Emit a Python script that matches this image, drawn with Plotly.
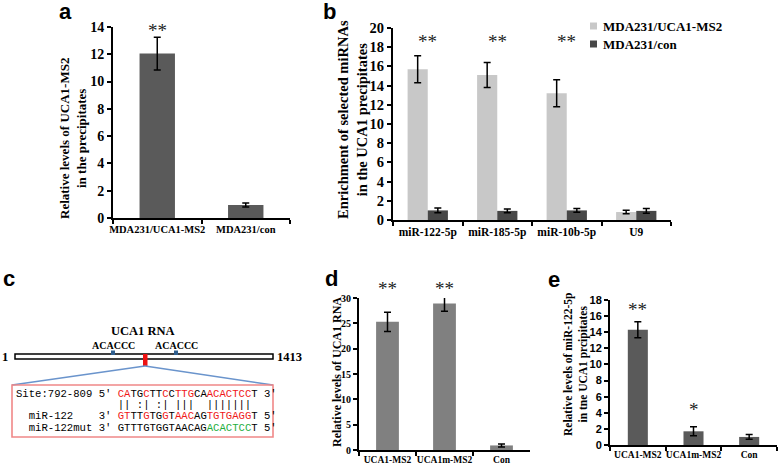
import plotly.graph_objects as go

W, H = 778, 466

# ---- data ----
a_cats = ['MDA231/UCA1-MS2', 'MDA231/con']
a_vals = [12.05, 0.95]
a_errs = [1.2, 0.15]
a_sig = ['**', '']

b_cats = ['miR-122-5p', 'miR-185-5p', 'miR-10b-5p', 'U9']
b_names = ['MDA231/UCA1-MS2', 'MDA231/con']
b_ms2 = [15.7, 15.1, 13.2, 0.83]
b_ms2_err = [1.4, 1.3, 1.4, 0.18]
b_con = [1.0, 0.95, 1.0, 0.95]
b_con_err = [0.25, 0.2, 0.2, 0.25]
b_sig = ['**', '**', '**', '']

d_cats = ['UCA1-MS2', 'UCA1m-MS2', 'Con']
d_vals = [25.3, 28.9, 0.9]
d_errs = [1.9, 1.5, 0.3]
d_sig = ['**', '**', '']

e_cats = ['UCA1-MS2', 'UCA1m-MS2', 'Con']
e_vals = [14.3, 1.7, 1.0]
e_errs = [1.0, 0.55, 0.3]
e_sig = ['**', '*', '']

site_label = 'Site:792-809'
site_seq = 'CATGCTTCCTTGCAACACTCCT'
mir_seq = 'GTTTGTGGTAACAGTGTGAGGT'
mut_seq = 'GTTTGTGGTAACAGACACTCCT'
rna_len = 1413

SERIF = 'Liberation Serif'
SANS = 'Liberation Sans'
MONO = 'Liberation Mono'
RED = '#f01818'
GREEN = '#1fae3e'


def px(x):
    return x / W


def py(y):
    return 1 - y / H


def err(vals):
    return dict(type='data', array=vals, color='black', thickness=1.5, width=3.5, visible=True)


fig = go.Figure()

fig.add_trace(go.Bar(x=a_cats, y=a_vals, error_y=err(a_errs), width=0.4,
                     marker=dict(color='#5a5a5a', line=dict(width=0)), xaxis='x', yaxis='y'))
fig.add_trace(go.Bar(x=b_cats, y=b_ms2, error_y=err(b_ms2_err), name=b_names[0],
                     marker=dict(color='#c8c8c8', line=dict(width=0)), xaxis='x2', yaxis='y2'))
fig.add_trace(go.Bar(x=b_cats, y=b_con, error_y=err(b_con_err), name=b_names[1],
                     marker=dict(color='#474747', line=dict(width=0)), xaxis='x2', yaxis='y2'))
fig.add_trace(go.Bar(x=d_cats, y=d_vals, error_y=err(d_errs), width=0.4,
                     marker=dict(color='#808080', line=dict(width=0)), xaxis='x3', yaxis='y3'))
fig.add_trace(go.Bar(x=e_cats, y=e_vals, error_y=err(e_errs), width=0.36,
                     marker=dict(color='#5a5a5a', line=dict(width=0)), xaxis='x4', yaxis='y4'))

# axis boxes in pixels: (x0, x1), (ytop, ybottom), ymax, step, ncat, y font, y size, x size
panels = {
    '': ((113, 290), (27, 218), 14, 2, len(a_cats), SERIF, 14, 10.5),
    '2': ((393, 671), (28, 220), 20, 2, len(b_cats), SERIF, 14.5, 11.5),
    '3': ((359, 530), (298, 450), 30, 5, len(d_cats), SERIF, 10, 9.5),
    '4': ((610, 777), (300, 445), 18, 2, len(e_cats), SANS, 11, 9.5),
}
layout_axes = {}
for k, (xs, ys, ymax, ystep, ncat, yfam, ysize, xsize) in panels.items():
    layout_axes['xaxis' + k] = dict(
        domain=[px(xs[0]), px(xs[1])], anchor='y' + k, range=[-0.5, ncat - 0.5],
        showline=True, linecolor='black', linewidth=2, ticks='outside', tickson='boundaries',
        ticklen=4, tickwidth=1.5, tickcolor='black', showgrid=False, zeroline=False,
        tickangle=0, automargin=False,
        tickfont=dict(family=SERIF, size=xsize, color='black', weight='bold'), fixedrange=True)
    layout_axes['yaxis' + k] = dict(
        domain=[py(ys[1]), py(ys[0])], anchor='x' + k, range=[0, ymax], dtick=ystep,
        showline=True, linecolor='black', linewidth=2, ticks='outside', ticklen=4,
        tickwidth=1.5, tickcolor='black', showgrid=False, zeroline=False, automargin=False,
        tickfont=dict(family=yfam, size=ysize, color='black', weight='bold'), fixedrange=True)

ann = []


def label(text, x, y, size=13, family=SERIF, color='black', bold=True, angle=0, xanchor='center'):
    ann.append(dict(text=text, x=px(x), y=py(y), xref='paper', yref='paper', showarrow=False,
                    xanchor=xanchor, yanchor='middle', textangle=angle,
                    font=dict(family=family, size=size, color=color,
                              weight='bold' if bold else 'normal')))


# panel letters
for t, x, y in [('a', 65, 12), ('b', 329, 12), ('c', 9, 278), ('d', 331, 278), ('e', 554, 279)]:
    label(t, x, y, size=22, family=SANS)

# y-axis titles
label('Relative levels of UCA1-MS2<br>in the precipitates', 73, 139, size=13, angle=-90)
label('Enrichment of selected miRNAs<br>in the UCA1 precipitates', 352, 120, size=14.5, angle=-90)
label('Relative levels of UCA1 RNA', 337, 372, size=12, angle=-90)
label('Relative levels of miR-122-5p<br>in tne UCA1 prcipitates', 576, 365, size=11.5, angle=-90)

# significance stars, one level per panel (fraction of y domain)
for k, cats, sig, lvl in [('', a_cats, a_sig, 1.0), ('2', b_cats, b_sig, 0.95),
                          ('3', d_cats, d_sig, 1.086), ('4', e_cats, e_sig, None)]:
    for i, (c, s) in enumerate(zip(cats, sig)):
        if not s:
            continue
        level = lvl if lvl is not None else [0.96, 0.27][i]
        ann.append(dict(text=s, x=c, y=level, xref='x' + k, yref='y' + k + ' domain',
                        showarrow=False, yanchor='middle', yshift=-4,
                        font=dict(family=SERIF, size=19, color='#222')))

# legend for panel b
shapes = []
for name, col, y in [(b_names[0], '#c8c8c8', 26), (b_names[1], '#474747', 44)]:
    shapes.append(dict(type='rect', xref='paper', yref='paper', x0=px(590), x1=px(597),
                       y0=py(y + 3.5), y1=py(y - 3.5), fillcolor=col, line=dict(width=0)))
    label(name, 601, y, size=13, xanchor='left')

# ---- panel c: UCA1 schematic ----
bar_x0, bar_x1 = 15, 273
shapes.append(dict(type='rect', xref='paper', yref='paper', x0=px(bar_x0), x1=px(bar_x1),
                   y0=py(359), y1=py(354), fillcolor='white', line=dict(color='black', width=1.5)))
for mx in [113, 176]:
    shapes.append(dict(type='rect', xref='paper', yref='paper', x0=px(mx - 2), x1=px(mx + 2),
                       y0=py(355), y1=py(350.5), fillcolor='#2f5f8f', line=dict(width=0)))
    label('ACACCC', mx, 345, size=10)
shapes.append(dict(type='rect', xref='paper', yref='paper', x0=px(143), x1=px(147.5),
                   y0=py(366), y1=py(354), fillcolor='#ee1111', line=dict(width=0)))
for ex in [12, 273]:
    shapes.append(dict(type='line', xref='paper', yref='paper', x0=px(145), y0=py(366),
                       x1=px(ex), y1=py(385), line=dict(color='#6a94cc', width=1.5)))
shapes.append(dict(type='rect', xref='paper', yref='paper', x0=px(12), x1=px(273),
                   y0=py(437), y1=py(385), line=dict(color='#f08888', width=1.6)))
label('UCA1 RNA', 143, 331, size=12.5)
label('1', 5, 357, size=12.5)
label(str(rna_len), 289, 357, size=12.5, xanchor='center')

# base pairing between site and miR-122
wc = {('A', 'T'), ('T', 'A'), ('G', 'C'), ('C', 'G')}
wobble = {('G', 'T'), ('T', 'G')}
pairs = ''
for s1, s2 in zip(site_seq, mir_seq):
    pairs += '|' if (s1, s2) in wc else (':' if (s1, s2) in wobble else ' ')


def colored(seq, mask, col):
    out = ''
    for ch, m in zip(seq, mask):
        out += f'<span style="color:{col}">{ch}</span>' if m else ch
    return out


NB = '\u00a0'
red_mask = [p == '|' for p in pairs]
green_mask = [a != b for a, b in zip(mir_seq, mut_seq)]
rows = [
    (394, site_label.ljust(13) + '5′ ' + colored(site_seq, red_mask, RED) + ' 3′'),
    (405, ' ' * 16 + pairs),
    (416, '  miR-122'.ljust(13) + '3′ ' + colored(mir_seq, red_mask, RED) + ' 5′'),
    (428, '  miR-122mut'.ljust(13) + '3′ ' + colored(mut_seq, green_mask, GREEN) + ' 5′'),
]
for y, txt in rows:
    parts = txt.split('<')
    parts[0] = parts[0].replace(' ', NB)
    for i in range(1, len(parts)):
        tag, _, rest = parts[i].partition('>')
        parts[i] = tag + '>' + rest.replace(' ', NB)
    label('<'.join(parts), 14, y, size=10.6, family=MONO, bold=False, xanchor='left')

fig.update_layout(
    width=W, height=H, margin=dict(l=0, r=0, t=0, b=0, autoexpand=False),
    paper_bgcolor='white', plot_bgcolor='white',
    barmode='group', bargap=0.42, showlegend=False,
    annotations=ann, shapes=shapes, **layout_axes)

fig.write_html('out.html', config={'displayModeBar': False},
               post_script="document.body.style.margin='0';document.body.style.overflow='hidden';")
